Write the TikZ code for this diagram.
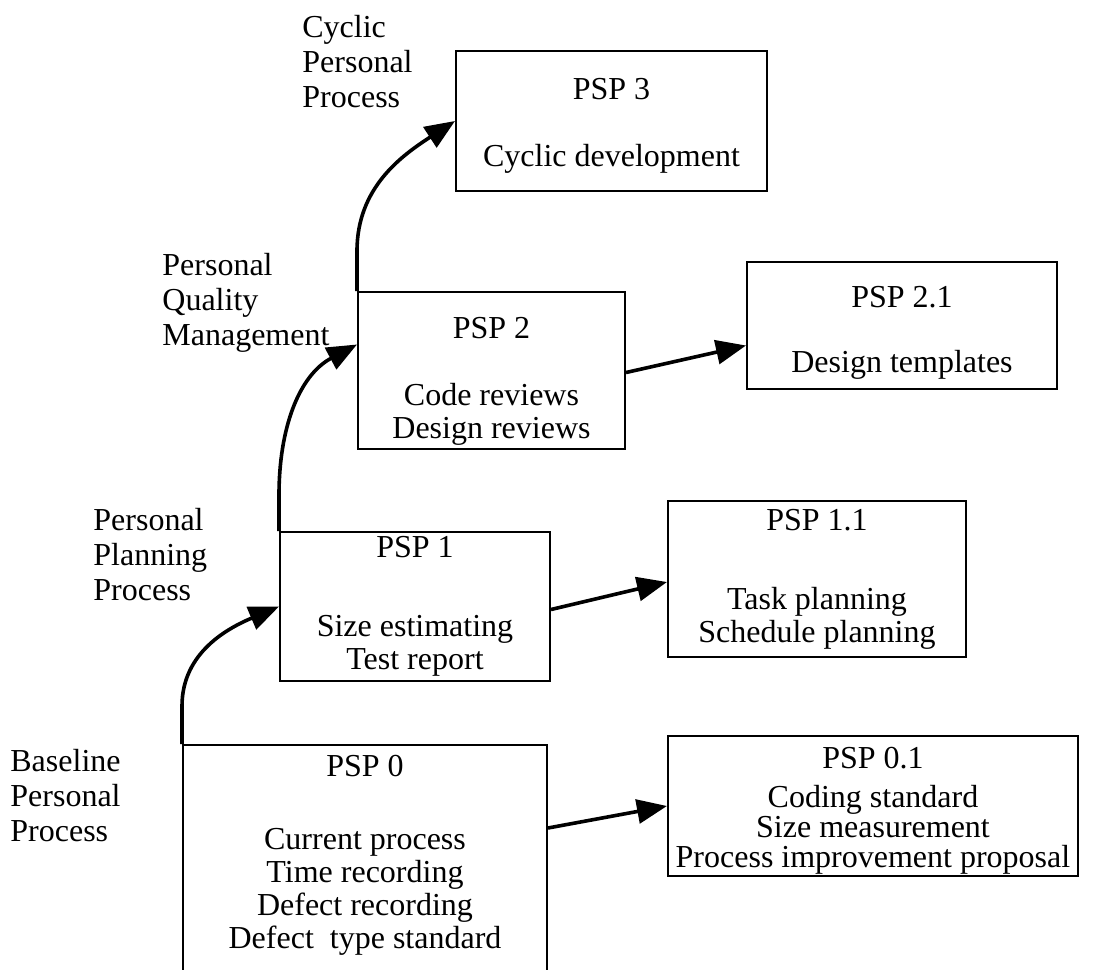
\documentclass[tikz,border=0pt]{standalone}
\usepackage{fontspec}
\setmainfont{Liberation Serif}
\usetikzlibrary{positioning}
\usetikzlibrary{arrows.meta}
\tikzset{stage/.style={draw, line width=1pt, anchor=north west, align=center, inner sep=0pt, font=\fontsize{16}{16.5}\selectfont}}
\tikzset{phase/.style={anchor=north west, align=left, inner sep=0pt, font=\fontsize{16}{17.5}\selectfont}}
\tikzset{flow/.style={line width=1.8pt, -{Triangle[length=15pt,width=12pt]}}}

\begin{document}
\begin{tikzpicture}[x=0.5pt,y=0.5pt]
\useasboundingbox (0,0) rectangle (1094,-970);
\node[stage, minimum width=155.5pt, minimum height=70pt] (psp3) at (455,-50) {\rule{0pt}{15pt}PSP 3\\[17pt]Cyclic development};
\node[stage, minimum width=133.5pt, minimum height=78.5pt] (psp2) at (357,-291) {\rule{0pt}{21pt}PSP 2\\[17pt]Code reviews\\Design reviews};
\node[stage, minimum width=155pt, minimum height=63.5pt] (psp21) at (746,-261) {\rule{0pt}{18pt}PSP 2.1\\[16pt]Design templates};
\node[stage, minimum width=135pt, minimum height=74.5pt] (psp1) at (279,-531) {PSP 1\\[23pt]Size estimating\\Test report};
\node[stage, minimum width=149pt, minimum height=78pt] (psp11) at (667,-500) {PSP 1.1\\[23pt]Task planning\\Schedule planning};
\node[stage, minimum width=182pt, minimum height=133pt] (psp0) at (182,-744) {PSP 0\\[20pt]Current process\\Time recording\\Defect recording\\Defect~ type standard\\[10pt]\mbox{}};
\node[stage, minimum width=205pt, minimum height=70pt] (psp01) at (667,-735) {\rule{0pt}{15pt}PSP 0.1\\[3pt]Coding standard\\[-1.5pt]Size measurement\\[-1.5pt]Process improvement proposal};
% phase labels
\node[phase] (cyc) at (302,-15) {Cyclic\\Personal\\Process};
\node[phase] (pqm) at (162,-253) {Personal\\Quality\\Management};
\node[phase] (ppp) at (93,-508) {Personal\\Planning\\Process};
\node[phase] (bpp) at (10,-749) {Baseline\\Personal\\Process};
% arrows
\draw[flow] (psp0.north west) -- ++(0,38) to[out=90,in=203] (psp1.west);
\draw[flow] (psp1.north west) -- ++(0,36) to[out=90,in=208] ([yshift=13pt]psp2.west);
\draw[flow] (psp2.north west) -- ++(0,40) to[out=90,in=213] (psp3.west);
\draw[flow] ([yshift=-42pt]psp0.north east) -- (psp01.west);
\draw[flow] ([yshift=-1.5pt]psp1.east) -- ([yshift=-1.5pt]psp11.west);
\draw[flow] ([yshift=-1pt]psp2.east) -- ([yshift=-10pt]psp21.west);
\end{tikzpicture}
\end{document}
